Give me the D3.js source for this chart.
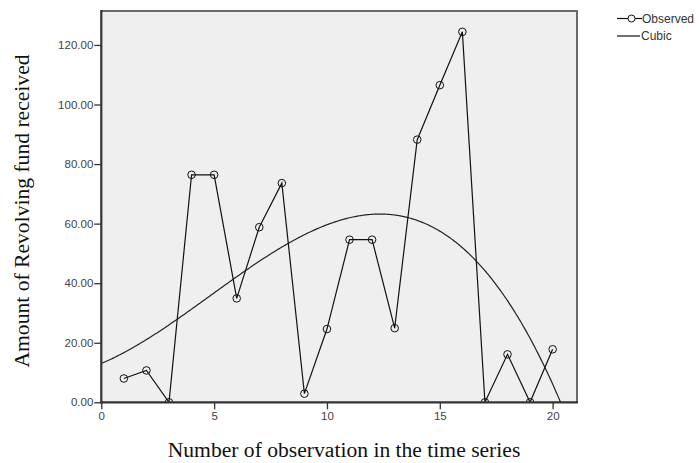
<!DOCTYPE html>
<html>
<head>
<meta charset="utf-8">
<script src="https://cdn.jsdelivr.net/npm/d3@7"></script>
<style>
  html, body { margin: 0; padding: 0; background: #ffffff; }
  svg { display: block; }
</style>
</head>
<body>
<svg id="chart" width="700" height="463"></svg>
<script>
// ---- data ----
const observationNumbers = [1, 2, 3, 4, 5, 6, 7, 8, 9, 10, 11, 12, 13, 14, 15, 16, 17, 18, 19, 20];
const observedValues = [8.0, 10.7, 0.0, 76.4, 76.4, 34.9, 58.8, 73.6, 2.9, 24.6, 54.6, 54.6, 24.9, 88.2, 106.5, 124.4, 0.0, 16.1, 0.0, 17.8];
// cubic fit: b0 + b1*t + b2*t^2 + b3*t^3
const cubicCoefficients = [13.03, 3.2095, 0.4677, -0.032273];
const yTickValues = [0, 20, 40, 60, 80, 100, 120];
const xTickValues = [0, 5, 10, 15, 20];
const legendLabels = ["Observed", "Cubic"];
const xAxisTitle = "Number of observation in the time series";
const yAxisTitle = "Amount of Revolving fund received";

// ---- layout ----
const svg = d3.select("#chart");
const pL = 101.3, pR = 577, pT = 11, pB = 402.3;

const x = d3.scaleLinear().domain([0, 21.08]).range([pL, pR]);
const y = d3.scaleLinear().domain([0, 131.4]).range([pB, pT]);

// plot background
svg.append("rect")
  .attr("x", pL).attr("y", pT)
  .attr("width", pR - pL).attr("height", pB - pT)
  .attr("fill", "#efefef");

// frame (top/right gray)
svg.append("path")
  .attr("d", `M${pL},${pT}H${pR}V${pB}`)
  .attr("fill", "none").attr("stroke", "#6a6a6a").attr("stroke-width", 2);

// clip
svg.append("clipPath").attr("id", "clip")
  .append("rect").attr("x", pL).attr("y", pT)
  .attr("width", pR - pL).attr("height", pB - pT);

const g = svg.append("g").attr("clip-path", "url(#clip)");

// cubic curve
const cubicFn = t => cubicCoefficients[0] + cubicCoefficients[1] * t + cubicCoefficients[2] * t * t + cubicCoefficients[3] * t * t * t;
const curveT = d3.range(0, 21.08, 0.05);
g.append("path")
  .datum(curveT.map(t => [t, cubicFn(t)]))
  .attr("fill", "none").attr("stroke", "#222").attr("stroke-width", 1.2)
  .attr("d", d3.line().x(d => x(d[0])).y(d => y(d[1])));

// observed line
const obs = observationNumbers.map((t, i) => [t, observedValues[i]]);
g.append("path")
  .datum(obs)
  .attr("fill", "none").attr("stroke", "#111").attr("stroke-width", 1.2)
  .attr("d", d3.line().x(d => x(d[0])).y(d => y(d[1])));

g.selectAll("circle.obs").data(obs).join("circle")
  .attr("class", "obs")
  .attr("cx", d => x(d[0])).attr("cy", d => y(d[1]))
  .attr("r", 3.8)
  .attr("fill", "none").attr("stroke", "#111").attr("stroke-width", 1);

// axes
const yAxis = d3.axisLeft(y).tickValues(yTickValues).tickFormat(d3.format(".2f")).tickSize(7).tickPadding(1);
const xAxis = d3.axisBottom(x).tickValues(xTickValues).tickFormat(d3.format("d")).tickSize(7).tickPadding(3);

const ya = svg.append("g").attr("transform", `translate(${pL},0)`).call(yAxis);
const xa = svg.append("g").attr("transform", `translate(0,${pB})`).call(xAxis);

[ya, xa].forEach(a => {
  a.select(".domain").remove();
  a.selectAll(".tick line").attr("stroke", "#333").attr("stroke-width", 1.3);
  a.selectAll(".tick text")
    .attr("fill", "#444")
    .style("font-family", "'Liberation Sans', Arial, sans-serif")
    .style("font-size", "11.5px");
});

// axis lines (dark)
svg.append("line").attr("x1", pL).attr("x2", pL).attr("y1", pT - 1).attr("y2", pB + 1)
  .attr("stroke", "#333").attr("stroke-width", 2.2);
svg.append("line").attr("x1", pL - 1).attr("x2", pR + 1).attr("y1", pB).attr("y2", pB)
  .attr("stroke", "#333").attr("stroke-width", 2.2);

// axis titles
svg.append("text")
  .attr("x", 344).attr("y", 457)
  .attr("text-anchor", "middle")
  .style("font-family", "'Liberation Serif', 'Times New Roman', serif")
  .style("font-size", "21.6px")
  .attr("fill", "#111")
  .text(xAxisTitle);

svg.append("text")
  .attr("transform", `translate(29,${211}) rotate(-90)`)
  .attr("text-anchor", "middle")
  .style("font-family", "'Liberation Serif', 'Times New Roman', serif")
  .style("font-size", "21.6px")
  .attr("fill", "#111")
  .text(yAxisTitle);

// legend
const lg = svg.append("g").style("font-family", "'Liberation Sans', Arial, sans-serif").style("font-size", "12px");
lg.append("line").attr("x1", 617).attr("x2", 642).attr("y1", 18.5).attr("y2", 18.5).attr("stroke", "#111").attr("stroke-width", 1.2);
lg.append("circle").attr("cx", 631.5).attr("cy", 18.5).attr("r", 3.5).attr("fill", "#fff").attr("stroke", "#111").attr("stroke-width", 1);
lg.append("text").attr("x", 642).attr("y", 22.8).attr("fill", "#333").text(legendLabels[0]);
lg.append("line").attr("x1", 617).attr("x2", 640).attr("y1", 36).attr("y2", 36).attr("stroke", "#111").attr("stroke-width", 1.2);
lg.append("text").attr("x", 641).attr("y", 40.3).attr("fill", "#333").text(legendLabels[1]);
</script>
</body>
</html>
